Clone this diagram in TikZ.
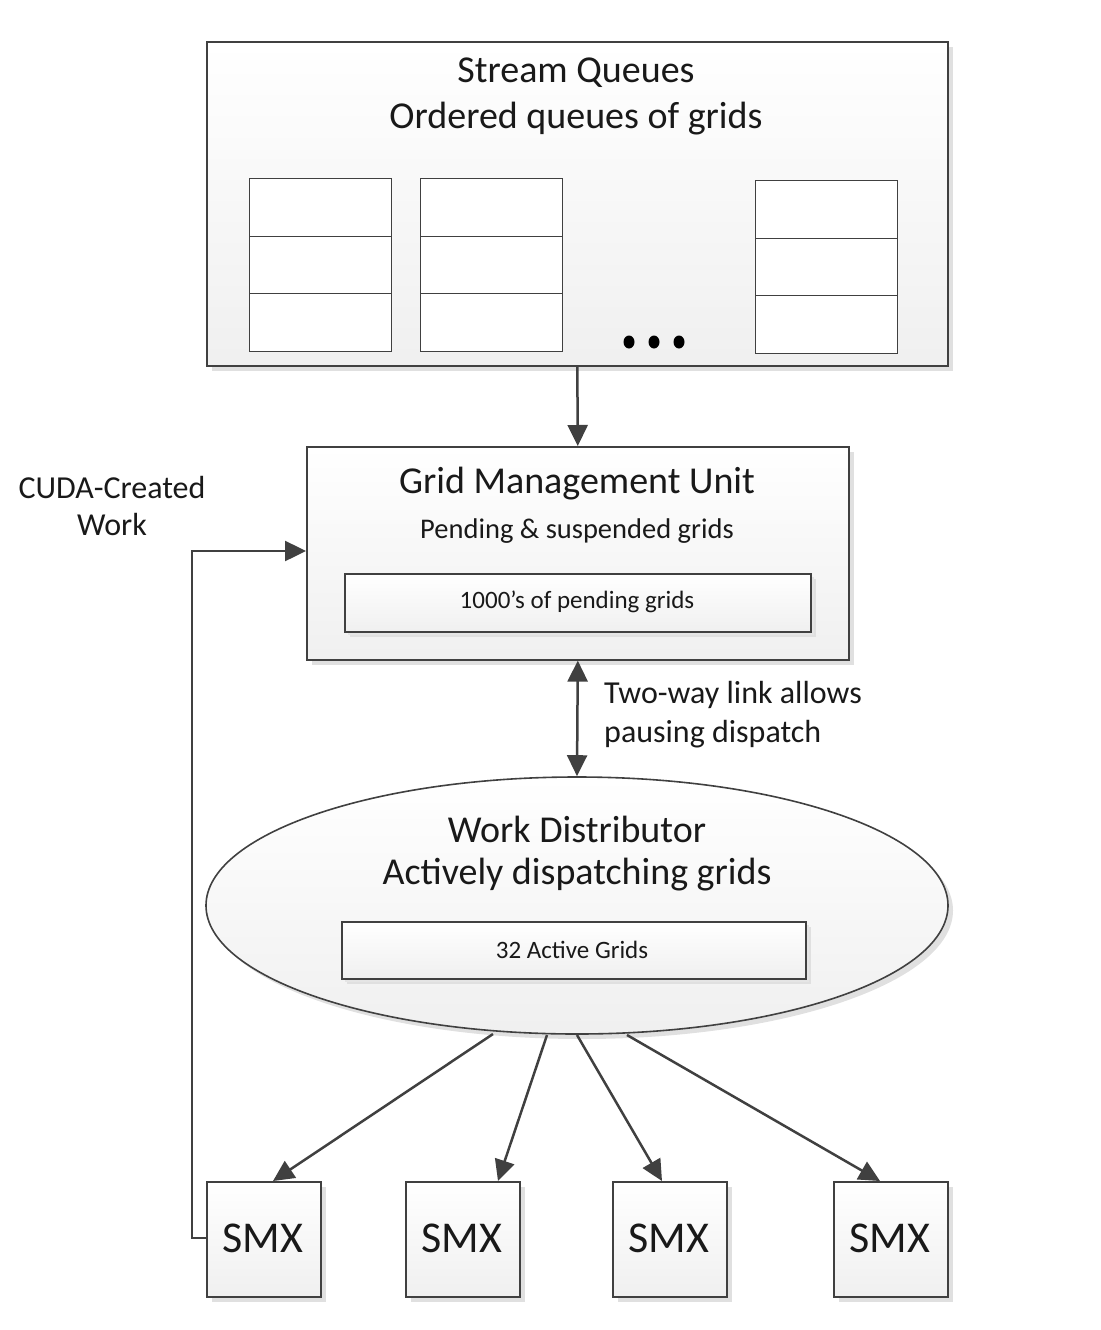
\documentclass[tikz,border=0pt]{standalone}
\usepackage{fontspec}
\setmainfont{Carlito}
\usetikzlibrary{shadows,arrows.meta,shapes.geometric}
\definecolor{ln}{HTML}{404040}
\tikzset{
  px/.style={x=1pt,y=-1pt},
  panel/.style={draw=ln, line width=1.6pt, top color=white, bottom color=black!6,
    general shadow={shadow xshift=5pt, shadow yshift=-5pt, fill=black!12}},
  cell/.style={draw=ln, line width=1.4pt, fill=white},
  tip/.tip={Triangle[length=21pt,width=20pt]},
  conn/.style={draw=ln, line width=2.5pt, -tip},
  txt/.style={inner sep=0pt, text=black!90},
  big/.style={font=\fontsize{38pt}{44pt}\selectfont},
}
\begin{document}
\begin{tikzpicture}[px]
\useasboundingbox (0,0) rectangle (1100,1330);
% Stream Queues
\node[panel, minimum width=741pt, minimum height=324pt, anchor=north west, inner sep=0pt] (sq) at (206,41) {};
\node[txt, big] (sqt) at (576,73) {Stream Queues};
\node[txt, big] (sqs) at (576,119) {Ordered queues of grids};
% queue columns
\foreach \n/\x/\y in {a/249/178, b/420/178, c/755/180}{
  \foreach \r in {0,1,2}{
    \node[cell, minimum width=142pt, minimum height=57.5pt, anchor=north west, inner sep=0pt] (q\n\r) at (\x,\y+57.5*\r) {};
  }
}
\foreach \d/\x in {1/629,2/654,3/679}{
  \node[fill=black, ellipse, minimum width=11pt, minimum height=13pt, inner sep=0pt] (dot\d) at (\x,342) {};
}
% GMU
\node[panel, minimum width=542pt, minimum height=213pt, anchor=north west, inner sep=0pt] (gmu) at (306,446) {};
\node[txt, big] (gmut) at (577,484) {Grid Management Unit};
\node[txt, font=\fontsize{28.5pt}{33pt}\selectfont] (gmus) at (577,531) {Pending \& suspended grids};
\node[panel, minimum width=466pt, minimum height=58pt, anchor=north west, inner sep=0pt,
  general shadow={shadow xshift=3pt, shadow yshift=-3pt, fill=black!10}] (pend) at (344,573) {};
\node[txt, font=\fontsize{25pt}{29pt}\selectfont] (pendt) at (577,602) {1000's of pending grids};
% Work Distributor
\node[panel, ellipse, minimum width=742pt, minimum height=257pt, inner sep=0pt] (wd) at (577,905.5) {};
\node[txt, big] (wdt) at (577,829) {Work Distributor};
\node[txt, big] (wds) at (577,875) {Actively dispatching grids};
\node[panel, minimum width=464pt, minimum height=57pt, anchor=north west, inner sep=0pt,
  general shadow={shadow xshift=3pt, shadow yshift=-3pt, fill=black!10}] (act) at (341,921) {};
\node[txt, font=\fontsize{25pt}{29pt}\selectfont] (actt) at (572,950) {32 Active Grids};
% SMX
\foreach \i/\x in {1/206,2/405,3/612,4/833}{
  \node[panel, minimum width=114pt, minimum height=115pt, anchor=north west, inner sep=0pt] (smx\i) at (\x,1181) {};
  \node[txt, font=\fontsize{44pt}{50pt}\selectfont] (smxt\i) at (\x+57,1238) {SMX};
}
% labels
\node[txt, font=\fontsize{32pt}{37pt}\selectfont, align=center] (cuda) at (112,506) {CUDA-Created\\Work};
\node[txt, font=\fontsize{32pt}{39pt}\selectfont, align=left, anchor=west] (two) at (604,715) {Two-way link allows\\pausing dispatch};
% connectors
\coordinate (c1) at (192,1238);
\coordinate (c2) at (192,551);
\draw[conn] (sq.south) -- (gmu.north);
\draw[conn, tip-tip] (gmu.south) -- (wd.north);
\draw[conn] (smx1.west |- c1) -- (c1) -- (c2) -- (gmu.west |- c2);
\coordinate (o1) at (493,1034);
\coordinate (o2) at (547,1035);
\coordinate (o3) at (577,1035);
\coordinate (o4) at (627,1035);
\draw[conn] (o1) -- (smx1.north -| 273,0);
\draw[conn] (o2) -- (smx2.north -| 498,0);
\draw[conn] (o3) -- (smx3.north -| 662,0);
\draw[conn] (o4) -- (smx4.north -| 880,0);
\end{tikzpicture}
\end{document}
